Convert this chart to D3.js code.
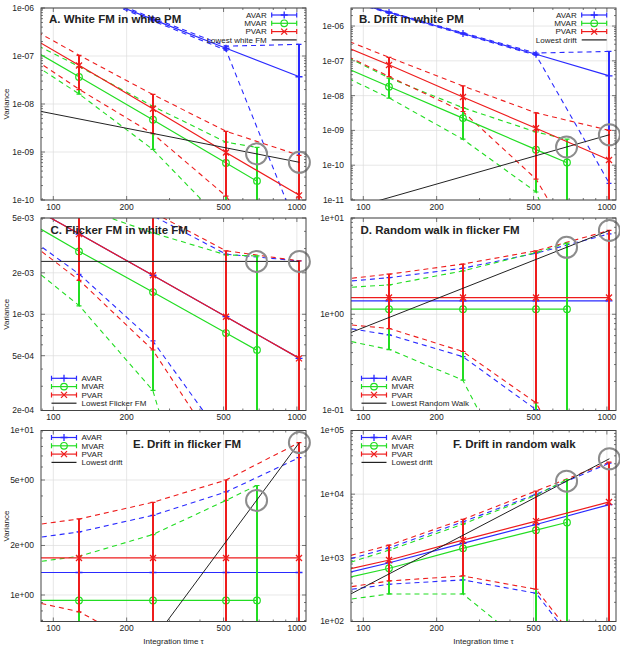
<!DOCTYPE html>
<html>
<head>
<meta charset="utf-8">
<script src="https://cdn.jsdelivr.net/npm/d3@7"></script>
<style>
body { margin: 0; background: #fff; }
text { font-family: "Liberation Sans", Arial, sans-serif; fill: #222; }
</style>
</head>
<body>
<svg id="chart" width="620" height="651"></svg>
<script>
// integration times (tau = 64 sits left of the visible range, the lines come in from it)
var tauAP = [64, 128, 256, 512, 1024];
var tauM = [64, 128, 256, 512, 683];
var xTicks = [100, 200, 500, 1000];
var xMinor = [90, 300, 400, 600, 700, 800, 900];

// A. White FM in white PM
var avarA = [9.3e-6, 2.33e-6, 5.8e-7, 1.45e-7, 3.7e-8];
var avarLoA = [8.9e-6, 2.2e-6, 5.4e-7, 1.32e-7, 2e-11];
var avarHiA = [9.7e-6, 2.45e-6, 6.2e-7, 1.6e-7, 1.75e-7];
var mvarA = [2.8e-7, 3.65e-8, 4.7e-9, 5.9e-10, 2.5e-10];
var mvarLoA = [1.6e-7, 1.6e-8, 1.13e-9, 3e-11, 1e-12];
var mvarHiA = [3.5e-7, 6.0e-8, 9e-9, 1.6e-9, 1.25e-9];
var pvarA = [4.9e-7, 6.35e-8, 7.95e-9, 9.8e-10, 1.25e-10];
var pvarLoA = [2.1e-7, 2.0e-8, 2.4e-9, 1.2e-10, 1e-12];
var pvarHiA = [7.3e-7, 1.03e-7, 1.58e-8, 2.7e-9, 8.5e-10];
var lowestA = [[89, 7.0e-9], [1024, 6.1e-10]];
var yTicksA = [1e-10, 1e-9, 1e-8, 1e-7, 1e-6];
var yLabelsA = ["1e-10", "1e-09", "1e-08", "1e-07", "1e-06"];

// B. Drift in white PM
var avarB = [9.8e-6, 2.45e-6, 6.1e-7, 1.55e-7, 3.7e-8];
var avarLoB = [9.4e-6, 2.35e-6, 5.8e-7, 1.45e-7, 3e-11];
var avarHiB = [1.02e-5, 2.55e-6, 6.4e-7, 1.68e-7, 1.86e-7];
var mvarB = [1.45e-7, 1.8e-8, 2.26e-9, 2.8e-10, 1.2e-10];
var mvarLoB = [8.6e-8, 8.5e-9, 5.6e-10, 1.7e-11, 1e-13];
var mvarHiB = [3.5e-7, 3.2e-8, 4.5e-9, 9e-10, 5.6e-10];
var pvarB = [5.6e-7, 7.6e-8, 9.1e-9, 1.15e-9, 1.41e-10];
var pvarLoB = [3.65e-7, 3.5e-8, 3.5e-9, 4e-11, 1e-14];
var pvarHiB = [8.5e-7, 1.25e-7, 1.9e-8, 3.2e-9, 1e-9];
var lowestB = [[89, 5.7e-12], [1024, 7.5e-10]];
var yTicksB = [1e-11, 1e-10, 1e-9, 1e-8, 1e-7, 1e-6];
var yLabelsB = ["1e-11", "1e-10", "1e-09", "1e-08", "1e-07", "1e-06"];

// C. Flicker FM in white FM
var avarC = [7.6e-3, 3.82e-3, 1.92e-3, 9.6e-4, 4.78e-4];
var avarLoC = [4.75e-3, 1.95e-3, 6.4e-4, 1.17e-4, 1e-6];
var avarHiC = [1.5e-2, 9e-3, 5.2e-3, 2.73e-3, 2.44e-3];
var mvarC = [5.8e-3, 2.86e-3, 1.45e-3, 7.3e-4, 5.5e-4];
var mvarLoC = [3.1e-3, 1.15e-3, 2.8e-4, 5e-6, 1e-7];
var mvarHiC = [1.1e-2, 6e-3, 3.9e-3, 2.7e-3, 2.65e-3];
var pvarC = [7.6e-3, 3.82e-3, 1.92e-3, 9.6e-4, 4.78e-4];
var pvarLoC = [4.5e-3, 1.76e-3, 5.5e-4, 8.5e-5, 1e-6];
var pvarHiC = [1.6e-2, 1e-2, 5.5e-3, 2.89e-3, 2.44e-3];
var lowestC = [[89, 2.42e-3], [1024, 2.42e-3]];
var yTicksC = [2e-4, 5e-4, 1e-3, 2e-3, 5e-3];
var yLabelsC = ["2e-04", "5e-04", "1e-03", "2e-03", "5e-03"];

// D. Random walk in flicker FM
var avarD = [1.38, 1.38, 1.38, 1.38, 1.38];
var avarLoD = [0.81, 0.61, 0.363, 0.102, 0.005];
var avarHiD = [2.06, 2.40, 3.01, 4.31, 6.85];
var mvarD = [1.13, 1.13, 1.13, 1.13, 1.13];
var mvarLoD = [0.62, 0.43, 0.207, 0.007, 0.001];
var mvarHiD = [1.81, 2.02, 2.82, 4.38, 5.48];
var pvarD = [1.49, 1.49, 1.49, 1.49, 1.49];
var pvarLoD = [0.84, 0.71, 0.41, 0.12, 0.005];
var pvarHiD = [2.16, 2.61, 3.32, 4.56, 7.43];
var lowestD = [[89, 0.646], [1024, 7.43]];
var yTicksD = [0.1, 1, 10];
var yLabelsD = ["1e-01", "1e+00", "1e+01"];

// E. Drift in flicker FM
var avarE = [1.37, 1.37, 1.37, 1.37, 1.37];
var avarLoE = [0.75, 0.6, 0.3, 0.1, 0.01];
var avarHiE = [2.1, 2.42, 3.05, 4.23, 6.85];
var mvarE = [0.927, 0.927, 0.927, 0.927, 0.927];
var mvarLoE = [0.55, 0.45, 0.2, 0.05, 0.01];
var mvarHiE = [1.5, 1.72, 2.33, 3.76, 4.63];
var pvarE = [1.68, 1.68, 1.68, 1.68, 1.68];
var pvarLoE = [0.99, 0.79, 0.45, 0.1, 0.01];
var pvarHiE = [2.53, 2.90, 3.66, 5.0, 8.45];
var lowestE = [[89, 0.0639], [1024, 8.45]];
var yTicksE = [1, 2, 5, 10];
var yLabelsE = ["1e+00", "2e+00", "5e+00", "1e+01"];

// F. Drift in random walk
var avarF = [444, 838, 1690, 3340, 6870];
var avarLoF = [270, 385, 450, 278, 9];
var avarHiF = [678, 1440, 3670, 9960, 30800];
var mvarF = [377, 686, 1410, 2720, 3590];
var mvarLoF = [190, 271, 271, 32, 1];
var mvarHiF = [578, 1325, 3380, 9620, 16900];
var pvarF = [513, 925, 1900, 3770, 7550];
var pvarLoF = [290, 434, 519, 321, 11];
var pvarHiF = [782, 1585, 4005, 11200, 31900];
var lowestF = [[89, 272], [1024, 36000]];
var yTicksF = [100, 1000, 10000, 100000];
var yLabelsF = ["1e+02", "1e+03", "1e+04", "1e+05"];

var seriesNames = ["AVAR", "MVAR", "PVAR"];
var colors = ["#2a2aff", "#22dd22", "#ee1c1c"];

var svg = d3.select("#chart");
var xDomain = [89, 1090];
var cols = [[41, 306], [351, 616]];
var rows = [[8, 200], [218, 410.5], [430.5, 621.5]];

var panels = [
    {key: "A", title: "A. White FM in white PM", c: 0, r: 0, yDomain: [1e-10, 1e-6], yTicks: yTicksA, yLabels: yLabelsA,
     vals: [avarA, mvarA, pvarA], los: [avarLoA, mvarLoA, pvarLoA], his: [avarHiA, mvarHiA, pvarHiA],
     lowest: lowestA, lowName: "Lowest white FM", legend: "tr", tdx: 8, tdy: 14.5},
    {key: "B", title: "B. Drift in white PM", c: 1, r: 0, yDomain: [1e-11, 3.3e-6], yTicks: yTicksB, yLabels: yLabelsB,
     vals: [avarB, mvarB, pvarB], los: [avarLoB, mvarLoB, pvarLoB], his: [avarHiB, mvarHiB, pvarHiB],
     lowest: lowestB, lowName: "Lowest drift", legend: "tr", tdx: 8, tdy: 14.5},
    {key: "C", title: "C. Flicker FM in white FM", c: 0, r: 1, yDomain: [2e-4, 5e-3], yTicks: yTicksC, yLabels: yLabelsC,
     vals: [avarC, mvarC, pvarC], los: [avarLoC, mvarLoC, pvarLoC], his: [avarHiC, mvarHiC, pvarHiC],
     lowest: lowestC, lowName: "Lowest Flicker FM", legend: "bl", tdx: 9.5, tdy: 15.5},
    {key: "D", title: "D. Random walk in flicker FM", c: 1, r: 1, yDomain: [0.1, 10], yTicks: yTicksD, yLabels: yLabelsD,
     vals: [avarD, mvarD, pvarD], los: [avarLoD, mvarLoD, pvarLoD], his: [avarHiD, mvarHiD, pvarHiD],
     lowest: lowestD, lowName: "Lowest Random Walk", legend: "bl", tdx: 9.5, tdy: 15.5},
    {key: "E", title: "E. Drift in flicker FM", c: 0, r: 2, yDomain: [0.69, 10], yTicks: yTicksE, yLabels: yLabelsE,
     vals: [avarE, mvarE, pvarE], los: [avarLoE, mvarLoE, pvarLoE], his: [avarHiE, mvarHiE, pvarHiE],
     lowest: lowestE, lowName: "Lowest drift", legend: "tl", tdx: 92, tdy: 17.5},
    {key: "F", title: "F. Drift in random walk", c: 1, r: 2, yDomain: [100, 1e5], yTicks: yTicksF, yLabels: yLabelsF,
     vals: [avarF, mvarF, pvarF], los: [avarLoF, mvarLoF, pvarLoF], his: [avarHiF, mvarHiF, pvarHiF],
     lowest: lowestF, lowName: "Lowest drift", legend: "tl", tdx: 102, tdy: 17.5}
];

function marker(g, kind, cx, cy, color) {
    if (kind == 0) {
        g.append("path").attr("d", `M${cx - 3.5},${cy}H${cx + 3.5}M${cx},${cy - 3.5}V${cy + 3.5}`)
            .attr("stroke", color).attr("stroke-width", 1.3).attr("fill", "none")
    } else if (kind == 1) {
        g.append("circle").attr("cx", cx).attr("cy", cy).attr("r", 3.3)
            .attr("stroke", color).attr("stroke-width", 1.2).attr("fill", "none")
    } else {
        g.append("path").attr("d", `M${cx - 3},${cy - 3}L${cx + 3},${cy + 3}M${cx - 3},${cy + 3}L${cx + 3},${cy - 3}`)
            .attr("stroke", color).attr("stroke-width", 1.3).attr("fill", "none")
    }
}

panels.forEach(function(p, pi) {
    var x0 = cols[p.c][0], x1 = cols[p.c][1];
    var y0 = rows[p.r][0], y1 = rows[p.r][1];
    var x = d3.scaleLog().domain(xDomain).range([x0, x1]);
    var y = d3.scaleLog().domain(p.yDomain).range([y1, y0]);
    var g = svg.append("g").attr("class", "panel-" + p.key);

    // grid
    g.selectAll(".gx").data(xTicks).join("line")
        .attr("x1", d => x(d)).attr("x2", d => x(d)).attr("y1", y0).attr("y2", y1)
        .attr("stroke", "#dcdcdc").attr("stroke-width", 0.7);
    g.selectAll(".gy").data(p.yTicks).join("line")
        .attr("x1", x0).attr("x2", x1).attr("y1", d => y(d)).attr("y2", d => y(d))
        .attr("stroke", "#dcdcdc").attr("stroke-width", 0.7);

    // ticks (mirrored, inward)
    var yMinor = y.ticks().filter(t => p.yTicks.every(m => Math.abs(m - t) / m > 1e-6));
    var tk = g.append("g").attr("stroke", "#555").attr("stroke-width", 0.8);
    xTicks.forEach(function(t) {
        tk.append("line").attr("x1", x(t)).attr("x2", x(t)).attr("y1", y1).attr("y2", y1 - 4);
        tk.append("line").attr("x1", x(t)).attr("x2", x(t)).attr("y1", y0).attr("y2", y0 + 4);
    });
    xMinor.forEach(function(t) {
        tk.append("line").attr("x1", x(t)).attr("x2", x(t)).attr("y1", y1).attr("y2", y1 - 2);
        tk.append("line").attr("x1", x(t)).attr("x2", x(t)).attr("y1", y0).attr("y2", y0 + 2);
    });
    p.yTicks.forEach(function(t) {
        tk.append("line").attr("x1", x0).attr("x2", x0 + 4).attr("y1", y(t)).attr("y2", y(t));
        tk.append("line").attr("x1", x1).attr("x2", x1 - 4).attr("y1", y(t)).attr("y2", y(t));
    });
    yMinor.forEach(function(t) {
        tk.append("line").attr("x1", x0).attr("x2", x0 + 2).attr("y1", y(t)).attr("y2", y(t));
        tk.append("line").attr("x1", x1).attr("x2", x1 - 2).attr("y1", y(t)).attr("y2", y(t));
    });

    // tick labels
    g.selectAll(".xl").data(xTicks).join("text")
        .attr("x", d => x(d)).attr("y", y1 + 9.8)
        .attr("text-anchor", "middle").attr("font-size", "8.5px").text(d => d);
    g.selectAll(".yl").data(p.yTicks).join("text")
        .attr("x", x0 - 7).attr("y", d => y(d)).attr("dy", "0.35em")
        .attr("text-anchor", "end").attr("font-size", "8.5px").text((d, i) => p.yLabels[i]);

    // clip
    svg.append("clipPath").attr("id", "clip" + p.key)
        .append("rect").attr("x", x0).attr("y", y0).attr("width", x1 - x0).attr("height", y1 - y0);
    var plot = g.append("g").attr("clip-path", `url(#clip${p.key})`);

    var line = d3.line().x(d => x(d[0])).y(d => y(d[1]));

    // confidence bounds, dashed
    [0, 1, 2].forEach(function(s) {
        var taus = s == 1 ? tauM : tauAP;
        [p.his[s], p.los[s]].forEach(function(b) {
            plot.append("path").datum(taus.map((t, i) => [t, b[i]]))
                .attr("d", line).attr("fill", "none")
                .attr("stroke", colors[s]).attr("stroke-width", 1.1)
                .attr("stroke-dasharray", "5,4");
        });
    });

    // estimates with error bars (bars snapped to two whole pixels so the top colour stays clean)
    [0, 1, 2].forEach(function(s) {
        var taus = s == 1 ? tauM : tauAP;
        plot.append("path").datum(taus.map((t, i) => [t, p.vals[s][i]]))
            .attr("d", line).attr("fill", "none")
            .attr("stroke", colors[s]).attr("stroke-width", 1.2);
        taus.forEach(function(t, i) {
            var cx = Math.round(x(t)), ya = y(p.los[s][i]), yb = y(p.his[s][i]);
            plot.append("path").attr("d", `M${cx},${ya}V${yb}`)
                .attr("stroke", colors[s]).attr("stroke-width", 2).attr("fill", "none");
            plot.append("path").attr("d", `M${cx - 2.5},${ya}H${cx + 2.5}M${cx - 2.5},${yb}H${cx + 2.5}`)
                .attr("stroke", colors[s]).attr("stroke-width", 1.2).attr("fill", "none");
            marker(plot, s, cx, y(p.vals[s][i]), colors[s]);
        });
    });

    // lowest detectable level
    plot.append("path").datum(p.lowest).attr("d", line)
        .attr("fill", "none").attr("stroke", "#222").attr("stroke-width", 1);

    // circles on the lowest line at the largest tau of MVAR and of AVAR/PVAR
    var lowPx = d3.scaleLog().domain([p.lowest[0][0], p.lowest[1][0]])
        .range([y(p.lowest[0][1]), y(p.lowest[1][1])]);
    [tauM[4], tauAP[4]].forEach(function(t) {
        g.append("circle").attr("cx", x(t)).attr("cy", lowPx(t)).attr("r", 10.5)
            .attr("fill", "none").attr("stroke", "#8c8c8c").attr("stroke-width", 2);
    });

    // border
    g.append("rect").attr("x", x0).attr("y", y0).attr("width", x1 - x0).attr("height", y1 - y0)
        .attr("fill", "none").attr("stroke", "#444").attr("stroke-width", 1);

    // title
    g.append("text").attr("x", x0 + p.tdx).attr("y", y0 + p.tdy)
        .attr("font-size", "11.5px").attr("font-weight", "bold").text(p.title);

    // legend
    var names = seriesNames.concat([p.lowName]);
    var lcol = colors.concat(["#222"]);
    names.forEach(function(n, i) {
        var ly, sx0, sx1, tx, anchor;
        if (p.legend == "bl") ly = y1 - 32.2 + i * 8.3;
        else ly = y0 + 7 + i * 8.3;
        if (p.legend == "tr") { sx0 = x1 - 34.3; sx1 = x1 - 9.3; tx = x1 - 39.3; anchor = "end"; }
        else { sx0 = x0 + 10.5; sx1 = x0 + 35.5; tx = x0 + 40.5; anchor = "start"; }
        g.append("line").attr("x1", sx0).attr("x2", sx1).attr("y1", ly).attr("y2", ly)
            .attr("stroke", lcol[i]).attr("stroke-width", 1.2);
        if (i < 3) {
            g.append("path").attr("d", `M${sx0},${ly - 2.5}V${ly + 2.5}M${sx1},${ly - 2.5}V${ly + 2.5}`)
                .attr("stroke", lcol[i]).attr("stroke-width", 1.2);
            marker(g, i, (sx0 + sx1) / 2, ly, lcol[i]);
        }
        g.append("text").attr("x", tx).attr("y", ly).attr("dy", "0.35em")
            .attr("text-anchor", anchor).attr("font-size", "8px").text(n);
    });

    // axis titles
    if (p.c == 0) {
        g.append("text").attr("transform", `translate(9,${(y0 + y1) / 2}) rotate(-90)`)
            .attr("text-anchor", "middle").attr("font-size", "8px").text("Variance");
    }
    if (p.r == 2) {
        g.append("text").attr("x", (x0 + x1) / 2).attr("y", y1 + 22.5)
            .attr("text-anchor", "middle").attr("font-size", "8px").text("Integration time τ");
    }
});
</script>
</body>
</html>
